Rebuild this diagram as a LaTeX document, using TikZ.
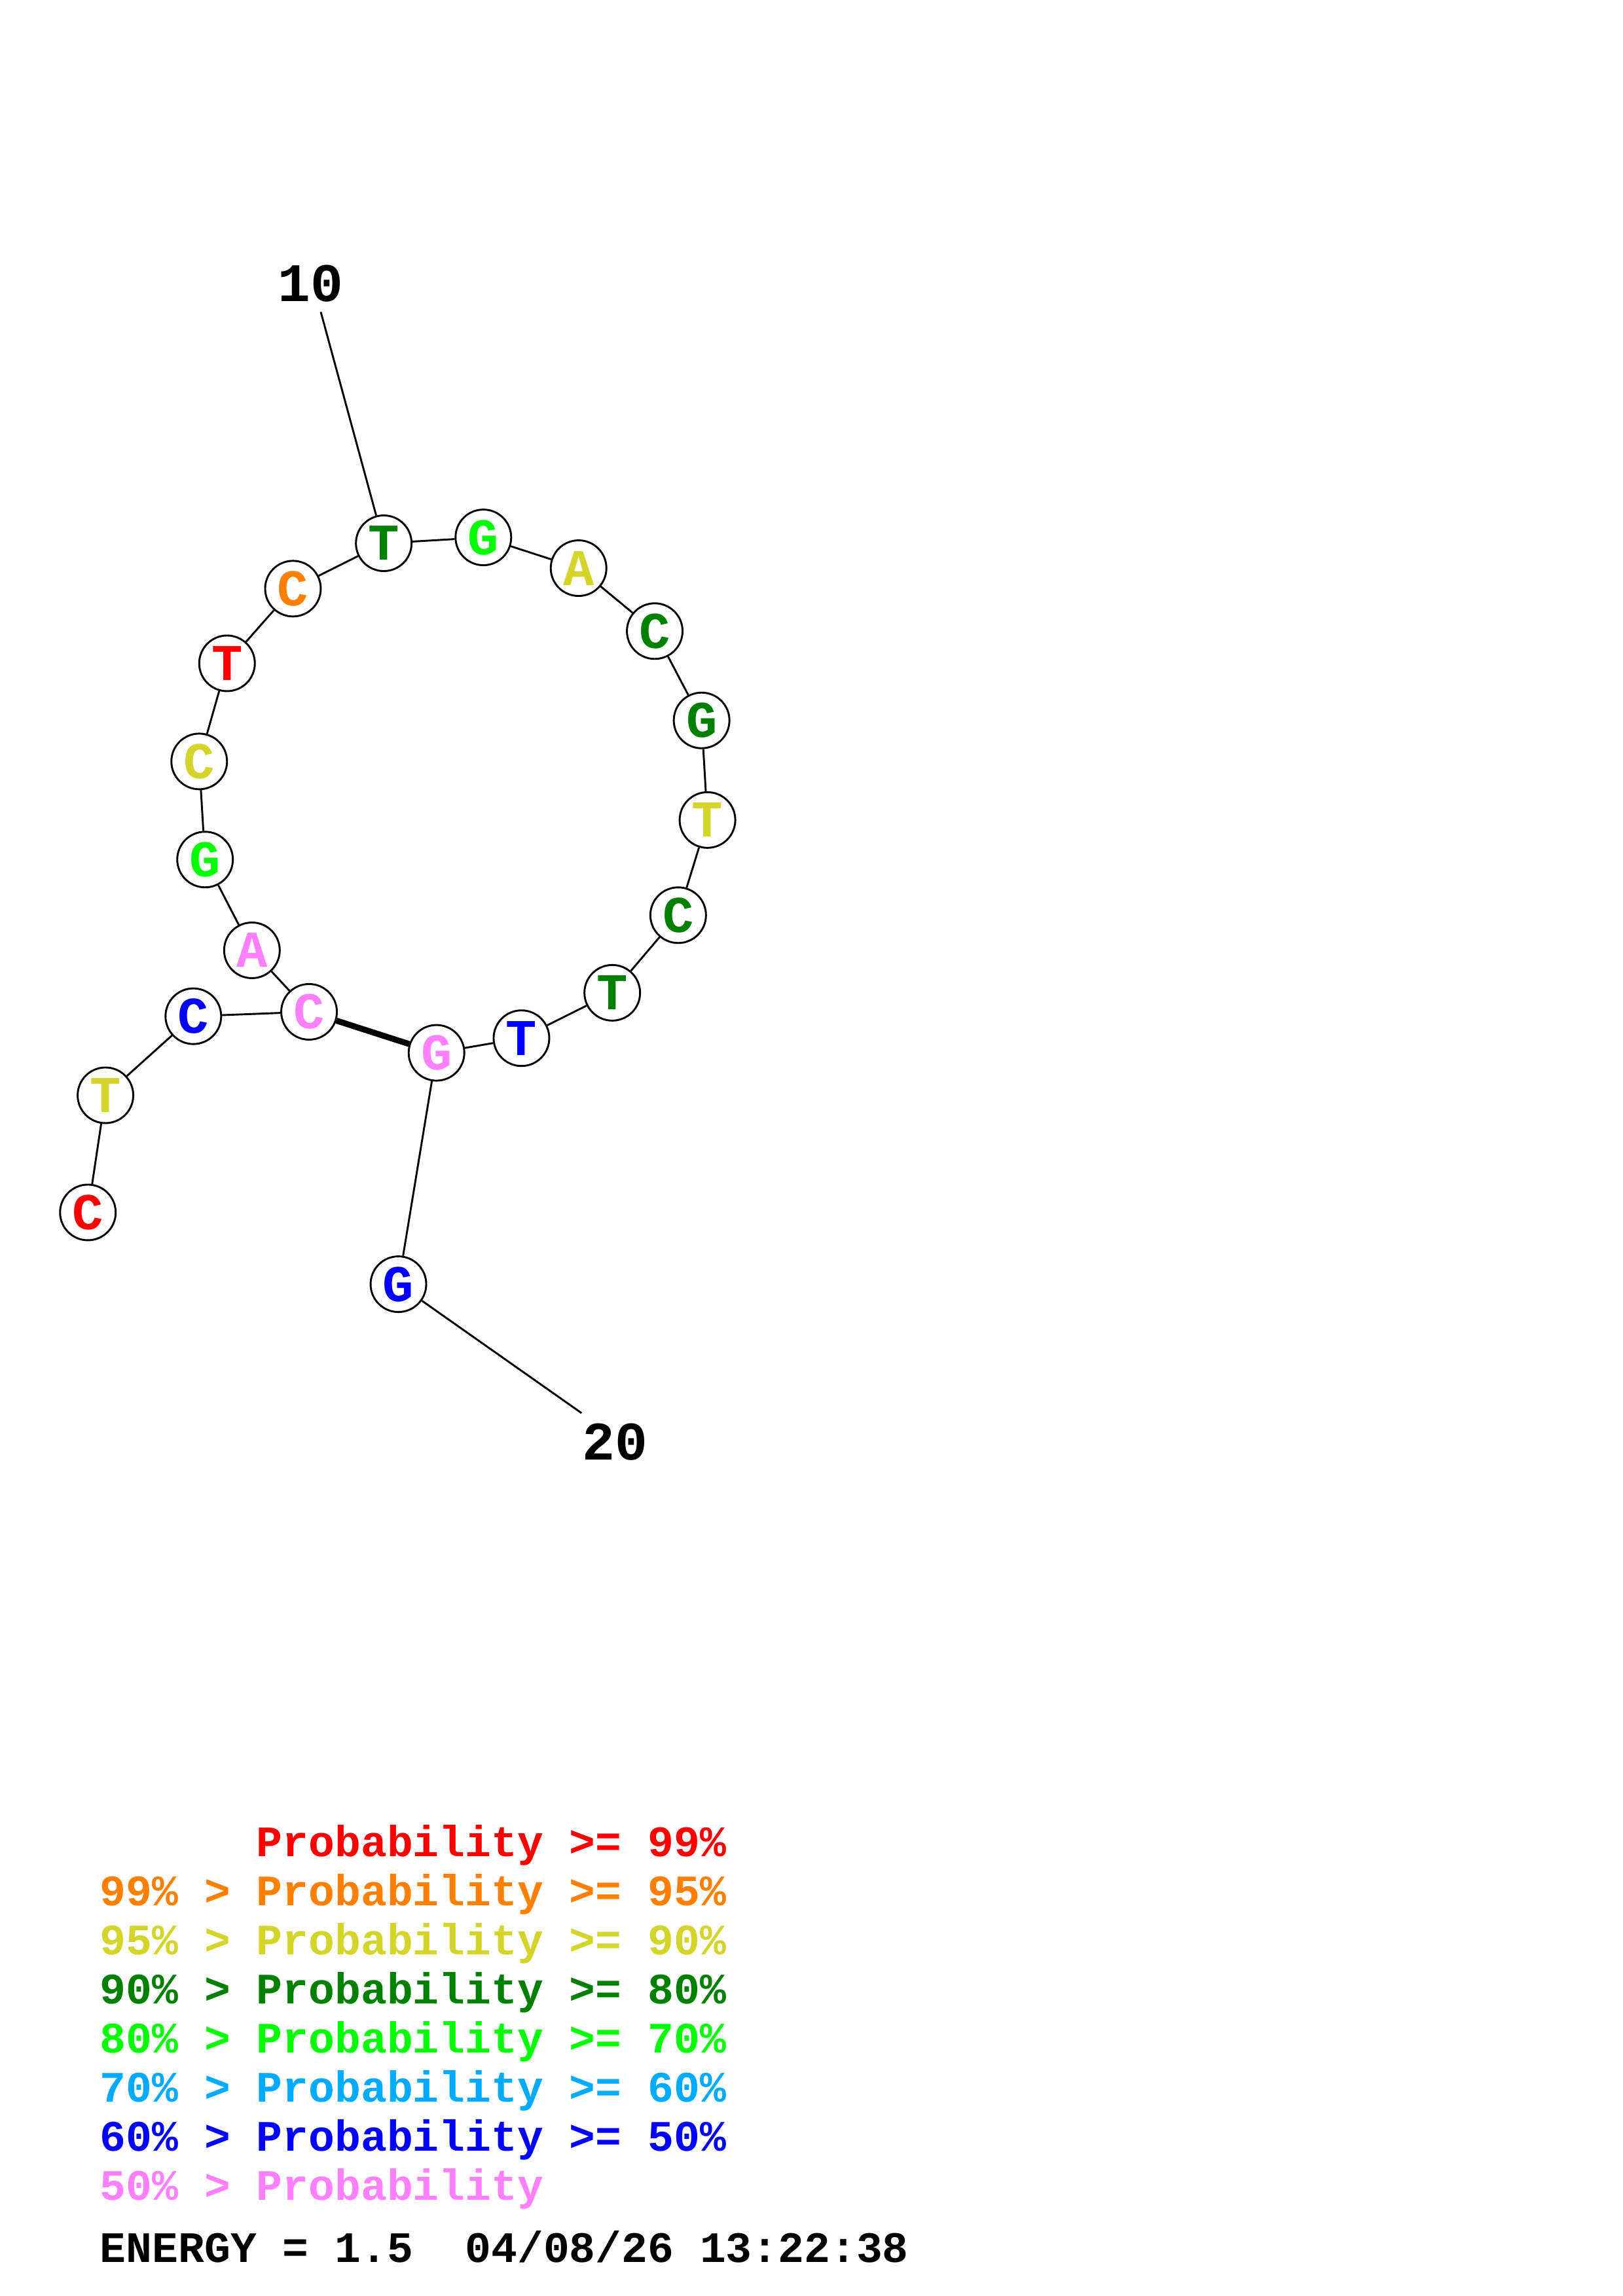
\documentclass[tikz,border=0pt]{standalone}
\usepackage{fontspec}
\setmonofont{Liberation Mono}
\usepackage{tikz}

\definecolor{pr99}{RGB}{255,0,0}
\definecolor{pr95}{RGB}{255,128,0}
\definecolor{pr90}{RGB}{212,212,42}
\definecolor{pr80}{RGB}{0,128,0}
\definecolor{pr70}{RGB}{0,255,0}
\definecolor{pr60}{RGB}{0,170,255}
\definecolor{pr50}{RGB}{0,0,255}
\definecolor{prlow}{RGB}{255,128,255}

\tikzset{
  base/.style={draw, shape=circle, fill=white, line width=0.7pt, inner sep=0pt,
    minimum size=0.72cm, font=\ttfamily\bfseries\fontsize{19}{19}\selectfont},
  legend/.style={anchor=base west, inner sep=0pt, font=\ttfamily\bfseries\fontsize{16}{16}\selectfont},
  numlabel/.style={anchor=base, inner sep=0pt, font=\ttfamily\bfseries\fontsize{20}{20}\selectfont}
}

\begin{document}
\begin{tikzpicture}[x=0.018953cm, y=-0.018953cm]
\useasboundingbox (0,0) rectangle (1108,1568);

\node[base, text=pr99] (1) at (60,828) {C};
\node[base, text=pr90] (2) at (72,748) {T};
\node[base, text=pr50] (3) at (132,694) {C};
\node[base, text=prlow] (4) at (211,691) {C};
\node[base, text=prlow] (5) at (172,649) {A};
\node[base, text=pr70] (6) at (140,587) {G};
\node[base, text=pr90] (7) at (136,520) {C};
\node[base, text=pr99] (8) at (155,453) {T};
\node[base, text=pr95] (9) at (200,402) {C};
\node[base, text=pr80] (10) at (262,371) {T};
\node[base, text=pr70] (11) at (330,367) {G};
\node[base, text=pr90] (12) at (395,388) {A};
\node[base, text=pr80] (13) at (447,431) {C};
\node[base, text=pr80] (14) at (479,492) {G};
\node[base, text=pr90] (15) at (483,560) {T};
\node[base, text=pr80] (16) at (463,625) {C};
\node[base, text=pr80] (17) at (418,678) {T};
\node[base, text=pr50] (18) at (356,709) {T};
\node[base, text=prlow] (19) at (298,719) {G};
\node[base, text=pr50] (20) at (272,877) {G};

\node[numlabel] (lab10) at (212,206) {10};
\node[numlabel] (lab20) at (420,997) {20};
\coordinate (end10) at (219,213);
\coordinate (end20) at (397,965);

% backbone
\foreach \i [evaluate=\i as \j using int(\i+1)] in {1,...,19}
  \draw[-, line width=0.7pt] (\i) -- (\j);
% pair
\draw[-, line width=2.2pt] (4) -- (19);
\draw[-, line width=0.7pt] (end10) -- (10);
\draw[-, line width=0.7pt] (20) -- (end20);

\node[legend, text=pr99] (leg1) at (68,1268) {\hphantom{99\% > }Probability >= 99\%};
\node[legend, text=pr95] (leg2) at (68,1301.5) {99\% > Probability >= 95\%};
\node[legend, text=pr90] (leg3) at (68,1335) {95\% > Probability >= 90\%};
\node[legend, text=pr80] (leg4) at (68,1368.5) {90\% > Probability >= 80\%};
\node[legend, text=pr70] (leg5) at (68,1402) {80\% > Probability >= 70\%};
\node[legend, text=pr60] (leg6) at (68,1435.5) {70\% > Probability >= 60\%};
\node[legend, text=pr50] (leg7) at (68,1469) {60\% > Probability >= 50\%};
\node[legend, text=prlow] (leg8) at (68,1502.5) {50\% > Probability};
\node[legend] (energy) at (68,1545) {ENERGY = 1.5~~04/08/26 13:22:38};
\end{tikzpicture}
\end{document}
